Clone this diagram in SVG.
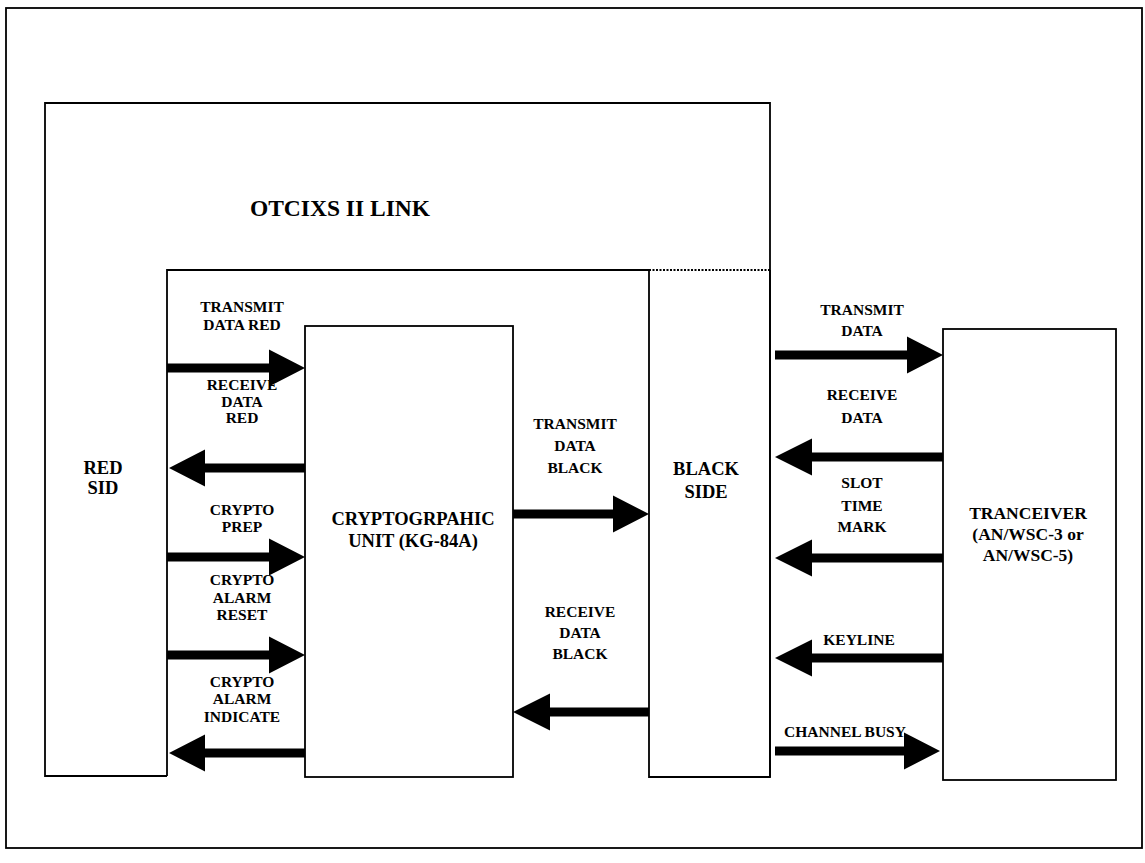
<svg xmlns="http://www.w3.org/2000/svg" width="1145" height="863" viewBox="0 0 1145 863">
<style>
.ln{fill:none;stroke:#000;stroke-width:1.8}
.dot{fill:none;stroke:#000;stroke-width:1.8;stroke-dasharray:2 1.5}
.t{font-family:"Liberation Serif","Times New Roman",serif;font-weight:bold;fill:#000;text-anchor:middle}
.s{font-size:15.5px}
.m{font-size:18.5px}
.a{fill:#000;stroke:none}
</style>
<rect width="1145" height="863" fill="#fff"/>
<rect x="6" y="8" width="1136" height="840" class="ln"/>
<g id="otcixs-link">
<path class="ln" d="M167,776 H45 V103 H770 V777"/>
<text class="t" x="340" y="216" font-size="23.5">OTCIXS II LINK</text>
</g>
<g id="red-sid">
<path class="ln" d="M167,776 V270 H649"/>
<text class="t m" x="103" y="474">RED</text>
<text class="t m" x="103" y="494">SID</text>
</g>
<g id="crypto-unit">
<rect class="ln" x="305" y="326" width="208" height="451"/>
<text class="t m" x="413" y="525">CRYPTOGRPAHIC</text>
<text class="t m" x="413" y="547">UNIT (KG-84A)</text>
</g>
<g id="black-side">
<path class="ln" d="M649,270 V777 H770 V270"/>
<path class="dot" d="M649,270 H770"/>
<text class="t m" x="706" y="475">BLACK</text>
<text class="t m" x="706" y="498">SIDE</text>
</g>
<g id="tranceiver">
<rect class="ln" x="943" y="329" width="173" height="451"/>
<text class="t" font-size="17.5" x="1028" y="519">TRANCEIVER</text>
<text class="t" font-size="17.5" x="1028" y="540">(AN/WSC-3 or</text>
<text class="t" font-size="17.5" x="1028" y="561">AN/WSC-5)</text>
</g>
<g id="connectors">
<path class="a" d="M167,363.5 H269 V349.5 L305,368 L269,386.5 V372.5 H167 Z"/>
<path class="a" d="M305,463.5 H205 V449.5 L169,468 L205,486.5 V472.5 H305 Z"/>
<path class="a" d="M167,552.5 H269 V538.5 L305,557 L269,575.5 V561.5 H167 Z"/>
<path class="a" d="M167,650.5 H269 V636.5 L305,655 L269,673.5 V659.5 H167 Z"/>
<path class="a" d="M305,748.5 H205 V734.5 L169,753 L205,771.5 V757.5 H305 Z"/>
<path class="a" d="M513,509.5 H613 V495.5 L649,514 L613,532.5 V518.5 H513 Z"/>
<path class="a" d="M649,707.5 H550 V693.5 L513,712 L550,730.5 V716.5 H649 Z"/>
<path class="a" d="M775,350.5 H907 V336.5 L943,355 L907,373.5 V359.5 H775 Z"/>
<path class="a" d="M943,452.5 H812 V438.5 L775,457 L812,475.5 V461.5 H943 Z"/>
<path class="a" d="M943,553.5 H812 V539.5 L775,558 L812,576.5 V562.5 H943 Z"/>
<path class="a" d="M943,653.5 H812 V639.5 L775,658 L812,676.5 V662.5 H943 Z"/>
<path class="a" d="M775,746.5 H904 V732.5 L940,751 L904,769.5 V755.5 H775 Z"/>
</g>
<g id="labels">
<text class="t s" x="242" y="312">TRANSMIT</text>
<text class="t s" x="242" y="330">DATA RED</text>
<text class="t s" x="242" y="390">RECEIVE</text>
<text class="t s" x="242" y="407">DATA</text>
<text class="t s" x="242" y="423">RED</text>
<text class="t s" x="242" y="515">CRYPTO</text>
<text class="t s" x="242" y="532">PREP</text>
<text class="t s" x="242" y="585">CRYPTO</text>
<text class="t s" x="242" y="603">ALARM</text>
<text class="t s" x="242" y="620">RESET</text>
<text class="t s" x="242" y="687">CRYPTO</text>
<text class="t s" x="242" y="704">ALARM</text>
<text class="t s" x="242" y="722">INDICATE</text>
<text class="t s" x="575" y="429">TRANSMIT</text>
<text class="t s" x="575" y="451">DATA</text>
<text class="t s" x="575" y="473">BLACK</text>
<text class="t s" x="580" y="617">RECEIVE</text>
<text class="t s" x="580" y="638">DATA</text>
<text class="t s" x="580" y="659">BLACK</text>
<text class="t s" x="862" y="315">TRANSMIT</text>
<text class="t s" x="862" y="336">DATA</text>
<text class="t s" x="862" y="400">RECEIVE</text>
<text class="t s" x="862" y="423">DATA</text>
<text class="t s" x="862" y="488">SLOT</text>
<text class="t s" x="862" y="511">TIME</text>
<text class="t s" x="862" y="532">MARK</text>
<text class="t s" x="859" y="645">KEYLINE</text>
<text class="t s" x="845" y="737">CHANNEL BUSY</text>
</g>
</svg>
